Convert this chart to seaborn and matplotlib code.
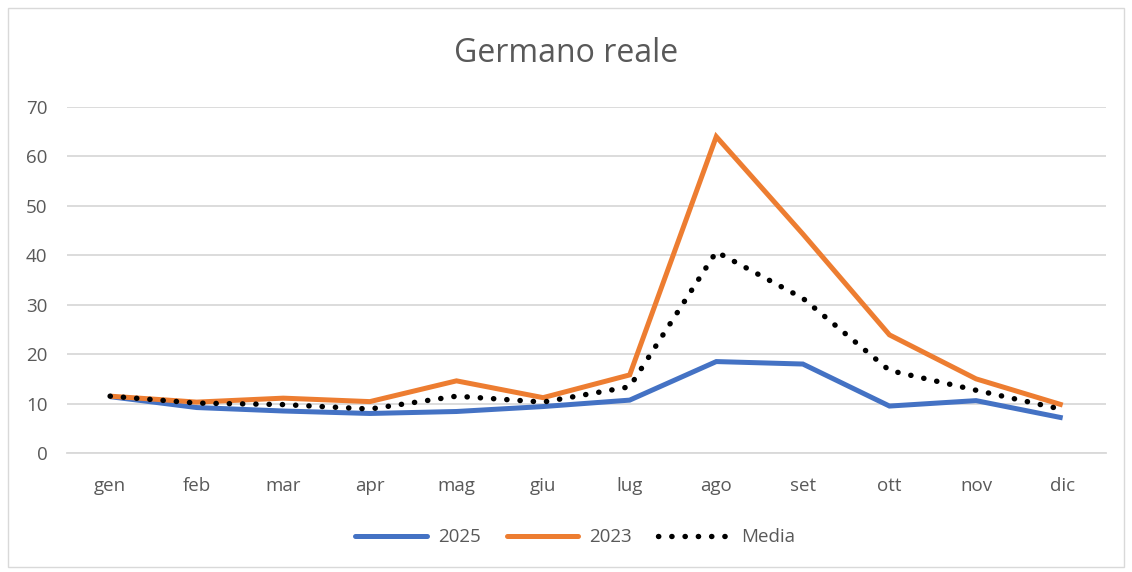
import pandas as pd
import numpy as np
import matplotlib.pyplot as plt
import seaborn as sns
from matplotlib.patches import Rectangle

# data
mesi = ['gen', 'feb', 'mar', 'apr', 'mag', 'giu', 'lug', 'ago', 'set', 'ott', 'nov', 'dic']
anno_2025 = [11.4, 9.2, 8.5, 8.0, 8.4, 9.4, 10.7, 18.5, 18.0, 9.5, 10.6, 7.1]
anno_2023 = [11.5, 10.3, 11.1, 10.4, 14.6, 11.2, 15.8, 64.0, 44.3, 23.9, 15.0, 9.7]
media = [11.5, 10.1, 9.8, 8.9, 11.5, 10.3, 13.4, 40.7, 31.3, 16.7, 12.7, 8.8]

df = pd.DataFrame({'mese': mesi, '2025': anno_2025, '2023': anno_2023, 'Media': media})
long_df = df.melt(id_vars='mese', var_name='serie', value_name='valore')

sns.set_style('white')
plt.rcParams['font.family'] = ['Open Sans', 'DejaVu Sans']

text_color = '#595959'
dotted = (0, (0.05, 2.4))
fig = plt.figure(figsize=(11.32, 5.72), dpi=100)
ax = fig.add_axes([0.059, 0.208, 0.918, 0.605])

palette = {'2025': '#4472C4', '2023': '#ED7D31', 'Media': 'black'}
sns.lineplot(data=long_df[long_df['serie'] != 'Media'], x='mese', y='valore', hue='serie',
             palette=palette, lw=3.6, sort=False, ax=ax, legend=False)
sns.lineplot(data=long_df[long_df['serie'] == 'Media'], x='mese', y='valore',
             color='black', lw=3.9, sort=False, ax=ax, legend=False)
media_line = ax.lines[-1]
media_line.set_linestyle(dotted)
media_line.set_dash_capstyle('round')
for ln in ax.lines[:-1]:
    ln.set_solid_capstyle('butt')
    ln.set_solid_joinstyle('miter')

ax.set_xlim(-0.5, len(mesi) - 0.5)
ax.set_ylim(0, 70)
ax.set_yticks(np.arange(0, 71, 10))
ax.grid(axis='y', color='#D9D9D9', lw=1.3)
ax.set_axisbelow(True)
for s in ['top', 'right', 'left']:
    ax.spines[s].set_visible(False)
ax.spines['bottom'].set_color('#D9D9D9')
ax.spines['bottom'].set_linewidth(1.3)
ax.tick_params(axis='both', length=0, labelsize=13.5, colors=text_color)
ax.tick_params(axis='x', pad=17)
ax.tick_params(axis='y', pad=14)
ax.set_xlabel('')
ax.set_ylabel('')

fig.text(0.5, 0.907, 'Germano reale', ha='center', va='center', fontsize=23, color=text_color)

handles = [plt.Line2D([], [], color='#4472C4', lw=3.6, solid_capstyle='round'),
           plt.Line2D([], [], color='#ED7D31', lw=3.6, solid_capstyle='round'),
           plt.Line2D([], [], color='black', lw=3.9, linestyle=dotted, dash_capstyle='round')]
fig.legend(handles, ['2025', '2023', 'Media'], loc='center', bbox_to_anchor=(0.508, 0.061),
           ncol=3, frameon=False, fontsize=13.5, handlelength=3.8, columnspacing=1.4,
           handletextpad=0.6, labelcolor=text_color)

fig.patches.append(Rectangle((0.007, 0.008), 0.986, 0.978, transform=fig.transFigure,
                             fill=False, edgecolor='#D9D9D9', lw=1.0))

plt.savefig('out.png', dpi=100)
